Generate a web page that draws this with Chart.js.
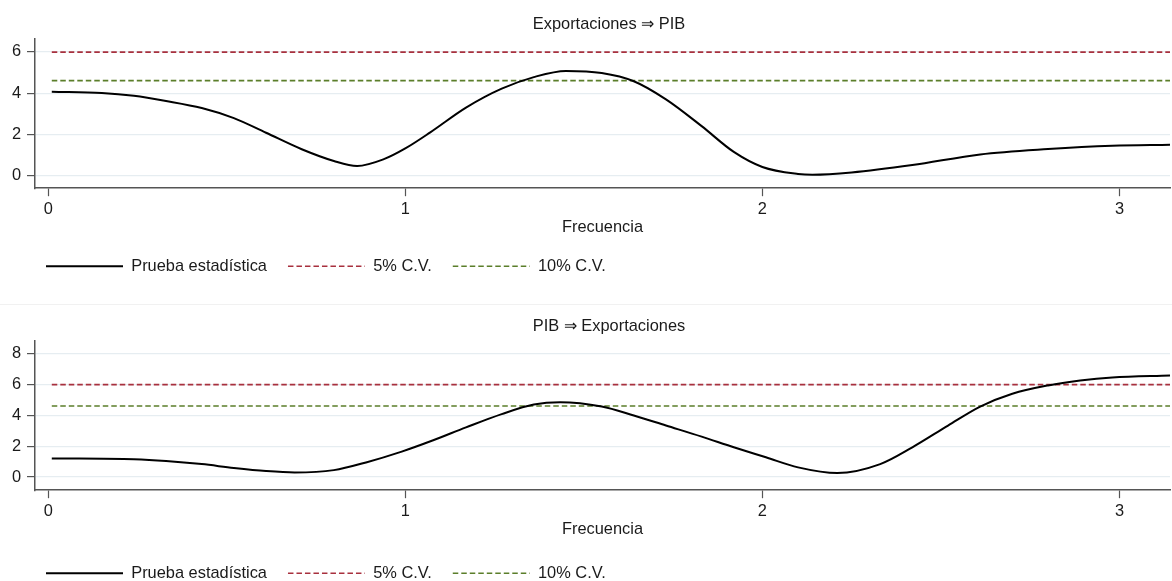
<!DOCTYPE html>
<html>
<head>
<meta charset="utf-8">
<script src="https://cdn.jsdelivr.net/npm/chart.js@4.4.1/dist/chart.umd.min.js"></script>
<style>
  html, body { margin: 0; padding: 0; background: #ffffff; overflow: hidden; }
  #wrap { position: relative; width: 1172px; height: 581px; overflow: hidden; }
  canvas { position: absolute; left: 0; }
  #c1 { top: 0; }
  #c2 { top: 302px; }
  #sep { position: absolute; left: 0; top: 304px; width: 1172px; height: 1px; background: #f1f1f1; }
</style>
</head>
<body>
<div id="wrap">
  <canvas id="c1" width="1172" height="304"></canvas>
  <div id="sep"></div>
  <canvas id="c2" width="1172" height="304"></canvas>
</div>
<script>
// Spectral Granger-causality test statistic by frequency
const freqExpPib = [0.01, 0.15, 0.24, 0.33, 0.43, 0.52, 0.61, 0.71, 0.80, 0.865, 0.94, 1.00, 1.07, 1.17, 1.27, 1.36, 1.45, 1.55, 1.64, 1.73, 1.83, 1.92, 2.00, 2.10, 2.14, 2.25, 2.42, 2.61, 2.80, 2.98, 3.1416];
const statExpPib = [4.07, 4.01, 3.87, 3.62, 3.28, 2.79, 2.08, 1.28, 0.71, 0.47, 0.80, 1.32, 2.10, 3.30, 4.22, 4.78, 5.08, 4.98, 4.58, 3.70, 2.40, 1.15, 0.42, 0.08, 0.04, 0.15, 0.51, 1.03, 1.29, 1.45, 1.50];

const freqPibExp = [0.01, 0.24, 0.33, 0.43, 0.52, 0.61, 0.69, 0.80, 0.89, 0.99, 1.08, 1.17, 1.27, 1.36, 1.434, 1.55, 1.64, 1.73, 1.83, 1.92, 2.01, 2.10, 2.21, 2.33, 2.42, 2.52, 2.61, 2.70, 2.80, 2.89, 2.98, 3.1416];
const statPibExp = [1.21, 1.15, 1.04, 0.84, 0.59, 0.39, 0.30, 0.45, 0.95, 1.65, 2.40, 3.22, 4.08, 4.70, 4.85, 4.57, 3.99, 3.34, 2.62, 1.93, 1.28, 0.63, 0.26, 0.84, 1.93, 3.34, 4.57, 5.40, 5.94, 6.26, 6.46, 6.59];

// Critical values (chi-squared, 2 d.f.)
const critical5 = 5.99;
const critical10 = 4.61;

const xTickValues = [0, 1, 2, 3];
const yTicksExpPib = [0, 2, 4, 6];
const yTicksPibExp = [0, 2, 4, 6, 8];

const panelTitles = ['Exportaciones \u21D2 PIB', 'PIB \u21D2 Exportaciones'];
const legendLabels = ['Prueba estad\u00EDstica', '5% C.V.', '10% C.V.'];
const xAxisTitle = 'Frecuencia';

const FONT = 'Arial, "Liberation Sans", Helvetica, sans-serif';
const FS = 16.4;
const TEXT = '#1a1a1a';
const AXIS = '#555555';
const GRID = '#e6edf1';
const RED = '#a8303e';
const GREEN = '#5b7e2a';

Chart.defaults.font.family = FONT;
Chart.defaults.font.size = FS;
Chart.defaults.color = TEXT;

// Moves the legend and the panel title sideways after layout
const blockIndent = {
  id: 'blockIndent',
  afterLayout(chart, args, opts) {
    if (chart.legend) {
      chart.legend.left += opts.legend;
      chart.legend.right += opts.legend;
    }
    if (chart.titleBlock) {
      chart.titleBlock.left += opts.title;
      chart.titleBlock.right += opts.title;
    }
  }
};

function toPoints(xs, ys) {
  return xs.map((x, i) => ({ x: x, y: ys[i] }));
}
function flatLine(xs, v) {
  return [{ x: xs[0], y: v }, { x: xs[xs.length - 1], y: v }];
}

function legendItems(chart) {
  const base = Chart.defaults.plugins.legend.labels.generateLabels(chart);
  return base.map((item, i) => {
    const ds = chart.data.datasets[i];
    return Object.assign({}, item, {
      strokeStyle: ds.borderColor,
      fillStyle: 'transparent',
      lineWidth: ds.borderWidth,
      lineDash: ds.borderDash || [],
      lineDashOffset: 0,
      pointStyle: 'line'
    });
  });
}

function makePanel(canvasId, title, freq, stat, yTicks, yMin, yMax, legendShift) {
  return new Chart(document.getElementById(canvasId), {
    type: 'line',
    plugins: [blockIndent],
    data: {
      datasets: [
        {
          label: legendLabels[0],
          data: toPoints(freq, stat),
          borderColor: '#000000',
          backgroundColor: 'transparent',
          borderWidth: 2,
          pointRadius: 0,
          cubicInterpolationMode: 'monotone',
          fill: false
        },
        {
          label: legendLabels[1],
          data: flatLine(freq, critical5),
          borderColor: RED,
          backgroundColor: 'transparent',
          borderWidth: 1.6,
          borderDash: [5.5, 3],
          pointRadius: 0,
          fill: false
        },
        {
          label: legendLabels[2],
          data: flatLine(freq, critical10),
          borderColor: GREEN,
          backgroundColor: 'transparent',
          borderWidth: 1.6,
          borderDash: [5.5, 3],
          pointRadius: 0,
          fill: false
        }
      ]
    },
    options: {
      responsive: false,
      animation: false,
      devicePixelRatio: 1,
      events: [],
      layout: { padding: { left: 0, right: 2, top: 0, bottom: 19.6 - legendShift } },
      plugins: {
        tooltip: { enabled: false },
        blockIndent: { legend: 25, title: 24 },
        title: {
          display: true,
          text: title,
          color: TEXT,
          font: { size: FS, weight: 'normal' },
          padding: { top: 14.7, bottom: 4.6 }
        },
        legend: {
          position: 'bottom',
          align: 'start',
          labels: {
            usePointStyle: true,
            pointStyle: 'line',
            pointStyleWidth: 77,
            padding: 21,
            color: TEXT,
            font: { size: FS },
            generateLabels: legendItems
          }
        }
      },
      scales: {
        x: {
          type: 'linear',
          min: -0.037,
          max: Math.PI,
          afterBuildTicks: (s) => { s.ticks = xTickValues.map(v => ({ value: v })); },
          grid: { drawOnChartArea: false, drawTicks: true, tickLength: 8, tickColor: AXIS, tickWidth: 1.2 },
          border: { display: true, color: AXIS, width: 1.5 },
          ticks: { padding: 4.8, color: TEXT, font: { size: FS, lineHeight: 1 }, maxRotation: 0 },
          title: {
            display: true,
            text: xAxisTitle,
            color: TEXT,
            font: { size: FS, lineHeight: 0.61 },
            padding: { top: 0, bottom: 4.8 + legendShift }
          }
        },
        y: {
          type: 'linear',
          min: yMin,
          max: yMax,
          afterBuildTicks: (s) => { s.ticks = yTicks.map(v => ({ value: v })); },
          afterFit: (s) => { s.width = 35; },
          grid: { color: GRID, lineWidth: 1.2, drawTicks: true, tickLength: 8, tickColor: AXIS, tickWidth: 1.2 },
          border: { display: true, color: AXIS, width: 1.5 },
          ticks: { padding: 6, color: TEXT, font: { size: FS } }
        }
      }
    }
  });
}

makePanel('c1', panelTitles[0], freqExpPib, statExpPib, yTicksExpPib, -0.61, 6.63, 0);
makePanel('c2', panelTitles[1], freqPibExp, statPibExp, yTicksPibExp, -0.85, 8.82, 5);
</script>
</body>
</html>
